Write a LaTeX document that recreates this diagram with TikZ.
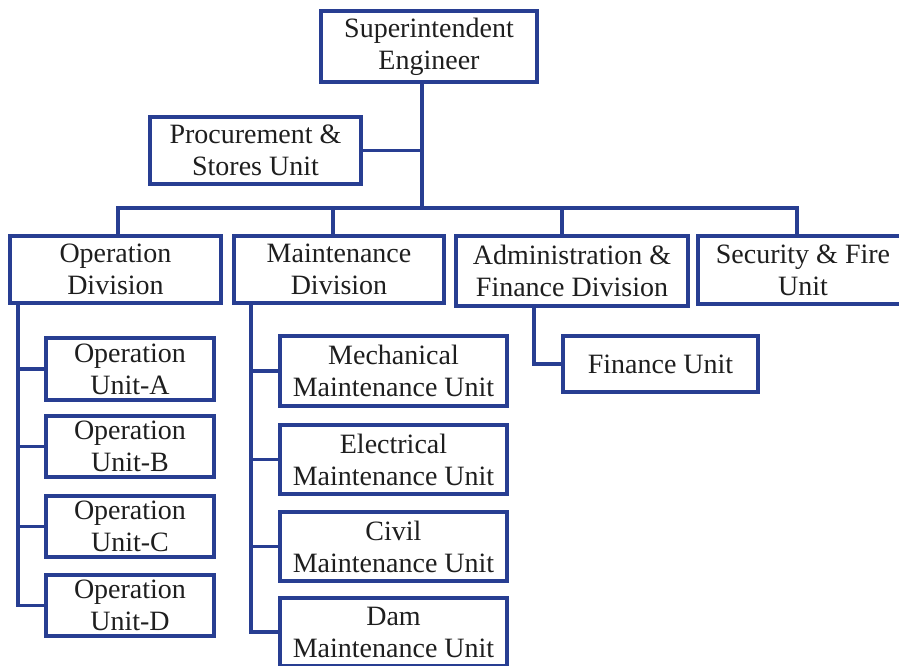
\documentclass[tikz,border=0pt]{standalone}
\usepackage{fontspec}
\setmainfont{Liberation Serif}
\definecolor{linkblue}{RGB}{40,62,146}
\definecolor{inktext}{RGB}{30,30,30}
\tikzset{
  unitbox/.style={draw=linkblue, line width=3.2pt, rectangle, inner sep=0pt,
    align=center, text=inktext, font=\fontsize{28}{32}\selectfont},
  link/.style={draw=linkblue, line width=3.2pt}
}
\begin{document}
\begin{tikzpicture}[x=1pt, y=-1pt]
\useasboundingbox (0,0) rectangle (899,666);
\clip (0,0) rectangle (899,666);

% top level
\node[unitbox, minimum width=216pt, minimum height=71pt] (sup) at (429,46.5) {Superintendent\\Engineer};
\node[unitbox, minimum width=211pt, minimum height=67pt] (proc) at (255.5,150.5) {Procurement \&\\Stores Unit};

% divisions
\node[unitbox, minimum width=211pt, minimum height=67pt] (opdiv) at (115.5,269.5) {Operation\\Division};
\node[unitbox, minimum width=210pt, minimum height=67pt] (mtdiv) at (339,269.5) {Maintenance\\Division};
\node[unitbox, minimum width=232pt, minimum height=70pt] (addiv) at (572,271) {Administration \&\\Finance Division};
\node[unitbox, minimum width=210pt, minimum height=68pt] (secu) at (803,270) {Security \& Fire\\Unit};

% operation units
\node[unitbox, minimum width=168pt, minimum height=62pt] (opa) at (130,369) {Operation\\Unit-A};
\node[unitbox, minimum width=168pt, minimum height=61pt] (opb) at (130,446.5) {Operation\\Unit-B};
\node[unitbox, minimum width=168pt, minimum height=61pt] (opc) at (130,526.5) {Operation\\Unit-C};
\node[unitbox, minimum width=168pt, minimum height=61pt] (opd) at (130,605.5) {Operation\\Unit-D};

% maintenance units
\node[unitbox, minimum width=227pt, minimum height=70pt] (mech) at (393.5,371) {Mechanical\\Maintenance Unit};
\node[unitbox, minimum width=227pt, minimum height=69pt] (elec) at (393.5,459.5) {Electrical\\Maintenance Unit};
\node[unitbox, minimum width=227pt, minimum height=69pt] (civil) at (393.5,546.5) {Civil\\Maintenance Unit};
\node[unitbox, minimum width=227pt, minimum height=68pt] (dam) at (393.5,632) {Dam\\Maintenance Unit};

% finance unit
\node[unitbox, minimum width=195pt, minimum height=56pt] (fin) at (660.5,364) {Finance Unit};

% branch points
\coordinate (trunk) at (422,208);
\coordinate (d1) at (118,208);
\coordinate (d2) at (333,208);
\coordinate (d3) at (562,208);
\coordinate (d4) at (797,208);
\coordinate (opspine) at (18,0);
\coordinate (mtspine) at (251,0);
\coordinate (adspine) at (534,0);

% top trunk and bus
\draw[link] (sup.south -| trunk) -- (trunk);
\draw[link] (proc.east) -- (proc.east -| trunk);
\draw[link] (d1 |- opdiv.north) -- (d1) -- (d4) -- (d4 |- secu.north);
\draw[link] (d2) -- (d2 |- mtdiv.north);
\draw[link] (d3) -- (d3 |- addiv.north);

% operation division spine
\draw[link] (opspine |- opdiv.south) -- (opspine |- opd.west) -- (opd.west);
\draw[link] (opspine |- opa.west) -- (opa.west);
\draw[link] (opspine |- opb.west) -- (opb.west);
\draw[link] (opspine |- opc.west) -- (opc.west);

% maintenance division spine
\draw[link] (mtspine |- mtdiv.south) -- (mtspine |- dam.west) -- (dam.west);
\draw[link] (mtspine |- mech.west) -- (mech.west);
\draw[link] (mtspine |- elec.west) -- (elec.west);
\draw[link] (mtspine |- civil.west) -- (civil.west);

% administration to finance
\draw[link] (adspine |- addiv.south) -- (adspine |- fin.west) -- (fin.west);
\end{tikzpicture}
\end{document}
